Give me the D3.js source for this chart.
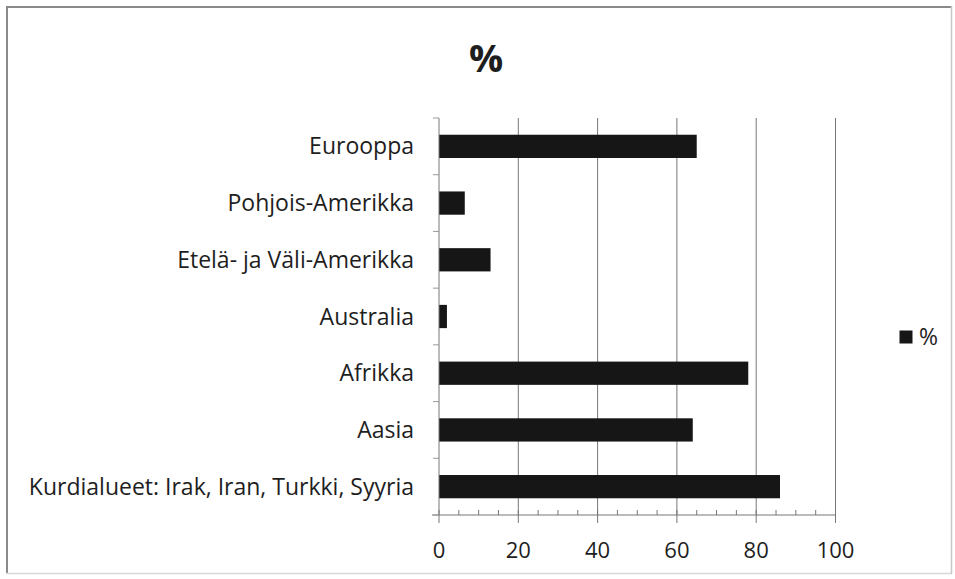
<!DOCTYPE html>
<html>
<head>
<meta charset="utf-8">
<script src="https://cdn.jsdelivr.net/npm/d3@7/dist/d3.min.js"></script>
<style>
  html, body { margin: 0; padding: 0; background: #fff; }
  svg { display: block; }
  text { font-family: "Open Sans", "Noto Sans", sans-serif; fill: #1e1e1e; }
</style>
</head>
<body>
<svg id="chart" width="955" height="579"></svg>
<script>
// Regions, top to bottom, and their shares in percent
const categories = [
  "Eurooppa",
  "Pohjois-Amerikka",
  "Etelä- ja Väli-Amerikka",
  "Australia",
  "Afrikka",
  "Aasia",
  "Kurdialueet: Irak, Iran, Turkki, Syyria"
];
const values = [65, 6.5, 13, 2, 78, 64, 86];
const xTicks = [0, 20, 40, 60, 80, 100];
const minorTicks = d3.range(0, 101, 5);
const seriesName = "%";

const svg = d3.select("#chart");
const W = 955, H = 579;

// outer frame: darker top/left edges, faint right/bottom edges
svg.append("line").attr("x1", 6).attr("x2", 952).attr("y1", 7).attr("y2", 7)
  .attr("stroke", "#8a8a8a").attr("stroke-width", 2);
svg.append("line").attr("x1", 7).attr("x2", 7).attr("y1", 6).attr("y2", 574)
  .attr("stroke", "#8a8a8a").attr("stroke-width", 2);
svg.append("line").attr("x1", 6).attr("x2", 952).attr("y1", 573.5).attr("y2", 573.5)
  .attr("stroke", "#d8d8d8").attr("stroke-width", 1.5);
svg.append("line").attr("x1", 951.5).attr("x2", 951.5).attr("y1", 6).attr("y2", 574)
  .attr("stroke", "#c8c8c8").attr("stroke-width", 1.5);

const plot = { left: 439, right: 835.5, top: 118, bottom: 515 };

const x = d3.scaleLinear().domain([0, 100]).range([plot.left, plot.right]);
const y = d3.scaleBand().domain(categories).range([plot.top, plot.bottom]).paddingInner(0.59).paddingOuter(0.295);

// title
svg.append("text")
  .attr("x", 486).attr("y", 72)
  .attr("text-anchor", "middle")
  .style("font-size", "38px").style("font-weight", "bold")
  .text(seriesName);

// vertical gridlines
svg.append("g").selectAll("line")
  .data(xTicks.slice(1))
  .join("line")
  .attr("x1", d => x(d)).attr("x2", d => x(d))
  .attr("y1", plot.top).attr("y2", plot.bottom)
  .attr("stroke", "#777").attr("stroke-width", 1);

// bars
svg.append("g").selectAll("rect")
  .data(categories)
  .join("rect")
  .attr("x", x(0))
  .attr("y", d => y(d))
  .attr("width", (d, i) => x(values[i]) - x(0))
  .attr("height", y.bandwidth())
  .attr("fill", "#161616");

// x axis: line, major ticks below, minor ticks above
const gx = svg.append("g");
gx.append("line")
  .attr("x1", 432).attr("x2", plot.right)
  .attr("y1", plot.bottom).attr("y2", plot.bottom)
  .attr("stroke", "#777");
gx.selectAll("line.minor")
  .data(minorTicks.filter(d => d % 20 !== 0))
  .join("line").attr("class", "minor")
  .attr("x1", d => x(d)).attr("x2", d => x(d))
  .attr("y1", plot.bottom - 5).attr("y2", plot.bottom)
  .attr("stroke", "#777");
gx.selectAll("line.major")
  .data(xTicks)
  .join("line").attr("class", "major")
  .attr("x1", d => x(d)).attr("x2", d => x(d))
  .attr("y1", plot.bottom - 5).attr("y2", plot.bottom + 8)
  .attr("stroke", "#777");
gx.selectAll("text")
  .data(xTicks)
  .join("text")
  .attr("x", d => x(d)).attr("y", 558)
  .attr("text-anchor", "middle")
  .style("font-size", "22px")
  .text(d => d);

// y axis: line and category boundary ticks
const gy = svg.append("g");
gy.append("line")
  .attr("x1", plot.left).attr("x2", plot.left)
  .attr("y1", plot.top).attr("y2", plot.bottom)
  .attr("stroke", "#777");
const step = y.step();
gy.selectAll("line.tick")
  .data(d3.range(categories.length + 1))
  .join("line").attr("class", "tick")
  .attr("x1", plot.left - 6).attr("x2", plot.left)
  .attr("y1", i => plot.top + i * step).attr("y2", i => plot.top + i * step)
  .attr("stroke", "#999");
gy.selectAll("text")
  .data(categories)
  .join("text")
  .attr("x", 414)
  .attr("y", d => y(d) + y.bandwidth() / 2)
  .attr("dy", "0.35em")
  .attr("text-anchor", "end")
  .style("font-size", "23px")
  .text(d => d);

// legend
const lg = svg.append("g");
lg.append("rect")
  .attr("x", 899.5).attr("y", 330.5).attr("width", 13).attr("height", 13)
  .attr("fill", "#161616");
lg.append("text")
  .attr("x", 919).attr("y", 337).attr("dy", "0.35em")
  .style("font-size", "23px")
  .text(seriesName);
</script>
</body>
</html>
